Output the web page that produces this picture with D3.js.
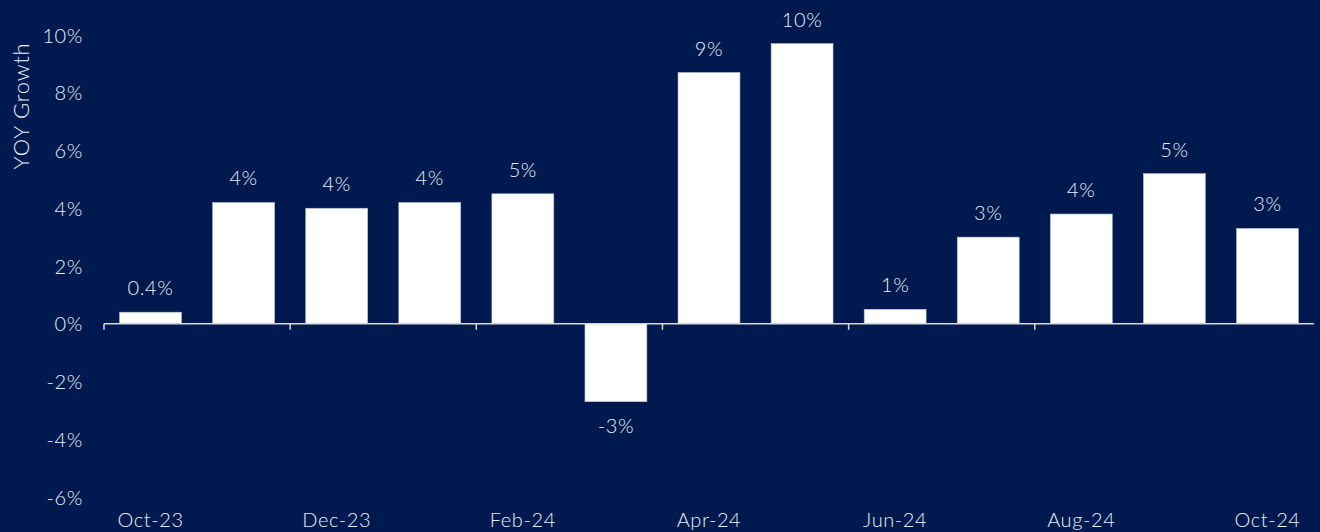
<!DOCTYPE html>
<html>
<head>
<meta charset="utf-8">
<script src="https://cdn.jsdelivr.net/npm/d3@7"></script>
<style>
  html, body { margin: 0; padding: 0; background: #001a4f; }
  svg { display: block; font-family: Lato, "Noto Sans", sans-serif; font-weight: 300; }
</style>
</head>
<body>
<div id="chart"></div>
<script>
// monthly YOY growth, Oct-23 .. Oct-24
const months = ['Oct-23', 'Nov-23', 'Dec-23', 'Jan-24', 'Feb-24', 'Mar-24', 'Apr-24',
                'May-24', 'Jun-24', 'Jul-24', 'Aug-24', 'Sep-24', 'Oct-24'];
const growth = [0.4, 4.2, 4.0, 4.2, 4.5, -2.7, 8.7, 9.7, 0.5, 3.0, 3.8, 5.2, 3.3];
const valueLabels = ['0.4%', '4%', '4%', '4%', '5%', '-3%', '9%', '10%', '1%', '3%', '4%', '5%', '3%'];
const yTicks = [-6, -4, -2, 0, 2, 4, 6, 8, 10];

const width = 1320, height = 532;
const margin = {top: 35, right: 6, bottom: 35, left: 104};
const txtColor = '#eceef3';
const fontSize = '20px';

const svg = d3.select('#chart').append('svg')
    .attr('width', width)
    .attr('height', height);

const x = d3.scaleBand().domain(months)
    .range([margin.left, width - margin.right])
    .paddingInner(0.335).paddingOuter(0.1675);
const y = d3.scaleLinear().domain([-6, 10])
    .range([height - margin.bottom, margin.top]);

// y axis labels only (no line)
const yAxis = svg.append('g')
    .attr('transform', 'translate(' + (margin.left - 18) + ',0)')
    .call(d3.axisLeft(y).tickValues(yTicks).tickSize(0).tickFormat(d => d + '%'));
yAxis.select('.domain').remove();
yAxis.selectAll('text')
    .attr('fill', txtColor)
    .attr('dy', '0.36em')
    .style('font-size', fontSize)
    .style('letter-spacing', '0.6px')
    .style('font-family', 'Lato, sans-serif')
    .style('font-weight', 300);

svg.append('text')
    .attr('transform', 'translate(29,' + 106 + ') rotate(-90)')
    .attr('text-anchor', 'middle')
    .attr('fill', txtColor)
    .style('font-size', '22px')
    .style('letter-spacing', '0.8px')
    .text('YOY Growth');

// bars
svg.selectAll('.bar')
    .data(growth)
    .enter().append('rect')
    .attr('class', 'bar')
    .attr('x', (d, i) => x(months[i]))
    .attr('width', x.bandwidth())
    .attr('y', d => y(Math.max(0, d)))
    .attr('height', d => Math.abs(y(d) - y(0)))
    .attr('fill', '#ffffff')
    .attr('stroke', '#b9c0d2')
    .attr('stroke-width', 0.6);

// zero line with a tick every two months
const step = x.step();
const axisG = svg.append('g');
axisG.append('line')
    .attr('x1', margin.left).attr('x2', width - margin.right)
    .attr('y1', y(0)).attr('y2', y(0))
    .attr('stroke', '#d6d8de').attr('stroke-width', 1.5);
axisG.selectAll('.tk')
    .data(months.filter((m, i) => i % 2 === 0 && i < months.length - 1))
    .enter().append('line')
    .attr('x1', m => x(m) - x.paddingOuter() * step)
    .attr('x2', m => x(m) - x.paddingOuter() * step)
    .attr('y1', y(0)).attr('y2', y(0) + 6)
    .attr('stroke', '#d6d8de').attr('stroke-width', 1.5);

// month labels, every other one
svg.selectAll('.xlab')
    .data(months.filter((m, i) => i % 2 === 0))
    .enter().append('text')
    .attr('x', m => x(m) + x.bandwidth() / 2)
    .attr('y', height - 5)
    .attr('text-anchor', 'middle')
    .attr('fill', txtColor)
    .style('font-size', fontSize)
    .style('letter-spacing', '0.6px')
    .text(m => m);

// value labels
svg.selectAll('.vlab')
    .data(growth)
    .enter().append('text')
    .attr('x', (d, i) => x(months[i]) + x.bandwidth() / 2)
    .attr('y', d => d >= 0 ? y(d) - 17 : y(d) + 31)
    .attr('text-anchor', 'middle')
    .attr('fill', txtColor)
    .style('font-size', fontSize)
    .style('letter-spacing', '0.6px')
    .text((d, i) => valueLabels[i]);
</script>
</body>
</html>
